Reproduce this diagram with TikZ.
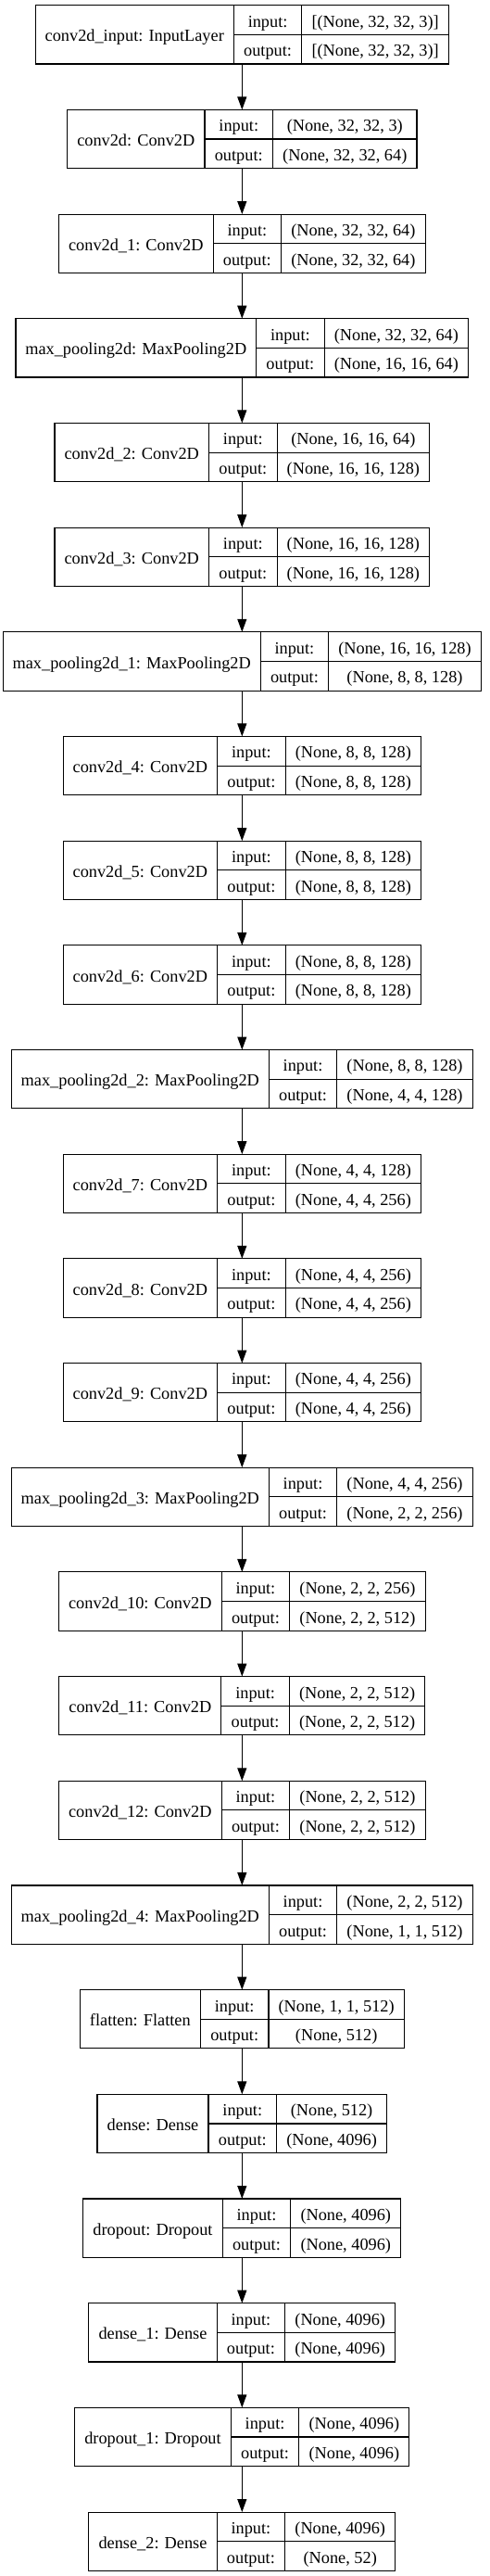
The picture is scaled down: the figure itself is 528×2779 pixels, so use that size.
\documentclass[tikz,border=0pt]{standalone}
\usepackage{fontspec}
\setmainfont{Liberation Serif}
\usetikzlibrary{arrows.meta}
\newdimen\lwN \newdimen\lwV \newdimen\lwVb
\newcommand\kfont{\fontsize{18.3}{22}\selectfont}
\newcommand\mfont{\fontsize{18.2}{22}\selectfont}
\makeatletter
\newcommand\kmeasure[5]{%
  \setbox0=\hbox{\mfont #3}\lwN=\wd0
  \setbox0=\hbox{\mfont #4}\lwV=\wd0
  \setbox0=\hbox{\mfont #5}\lwVb=\wd0
  \ifdim\lwVb>\lwV \lwV=\lwVb\fi
  \expandafter\xdef\csname kN#1\endcsname{\strip@pt\lwN}%
  \expandafter\xdef\csname kV#1\endcsname{\strip@pt\lwV}%
}
\newcommand\kiomeasure{%
  \setbox0=\hbox{\mfont output:}\lwN=\wd0
  \xdef\kIOw{\strip@pt\lwN}%
}
\makeatother
\newcommand\alllayers{%
\klay{L0}{0}{conv2d\_input: InputLayer}{[(None, 32, 32, 3)]}{[(None, 32, 32, 3)]}%
\klay{L1}{1}{conv2d: Conv2D}{(None, 32, 32, 3)}{(None, 32, 32, 64)}%
\klay{L2}{2}{conv2d\_1: Conv2D}{(None, 32, 32, 64)}{(None, 32, 32, 64)}%
\klay{L3}{3}{max\_pooling2d: MaxPooling2D}{(None, 32, 32, 64)}{(None, 16, 16, 64)}%
\klay{L4}{4}{conv2d\_2: Conv2D}{(None, 16, 16, 64)}{(None, 16, 16, 128)}%
\klay{L5}{5}{conv2d\_3: Conv2D}{(None, 16, 16, 128)}{(None, 16, 16, 128)}%
\klay{L6}{6}{max\_pooling2d\_1: MaxPooling2D}{(None, 16, 16, 128)}{(None, 8, 8, 128)}%
\klay{L7}{7}{conv2d\_4: Conv2D}{(None, 8, 8, 128)}{(None, 8, 8, 128)}%
\klay{L8}{8}{conv2d\_5: Conv2D}{(None, 8, 8, 128)}{(None, 8, 8, 128)}%
\klay{L9}{9}{conv2d\_6: Conv2D}{(None, 8, 8, 128)}{(None, 8, 8, 128)}%
\klay{L10}{10}{max\_pooling2d\_2: MaxPooling2D}{(None, 8, 8, 128)}{(None, 4, 4, 128)}%
\klay{L11}{11}{conv2d\_7: Conv2D}{(None, 4, 4, 128)}{(None, 4, 4, 256)}%
\klay{L12}{12}{conv2d\_8: Conv2D}{(None, 4, 4, 256)}{(None, 4, 4, 256)}%
\klay{L13}{13}{conv2d\_9: Conv2D}{(None, 4, 4, 256)}{(None, 4, 4, 256)}%
\klay{L14}{14}{max\_pooling2d\_3: MaxPooling2D}{(None, 4, 4, 256)}{(None, 2, 2, 256)}%
\klay{L15}{15}{conv2d\_10: Conv2D}{(None, 2, 2, 256)}{(None, 2, 2, 512)}%
\klay{L16}{16}{conv2d\_11: Conv2D}{(None, 2, 2, 512)}{(None, 2, 2, 512)}%
\klay{L17}{17}{conv2d\_12: Conv2D}{(None, 2, 2, 512)}{(None, 2, 2, 512)}%
\klay{L18}{18}{max\_pooling2d\_4: MaxPooling2D}{(None, 2, 2, 512)}{(None, 1, 1, 512)}%
\klay{L19}{19}{flatten: Flatten}{(None, 1, 1, 512)}{(None, 512)}%
\klay{L20}{20}{dense: Dense}{(None, 512)}{(None, 4096)}%
\klay{L21}{21}{dropout: Dropout}{(None, 4096)}{(None, 4096)}%
\klay{L22}{22}{dense\_1: Dense}{(None, 4096)}{(None, 4096)}%
\klay{L23}{23}{dropout\_1: Dropout}{(None, 4096)}{(None, 4096)}%
\klay{L24}{24}{dense\_2: Dense}{(None, 4096)}{(None, 52)}%
}
\AtBeginDocument{\kiomeasure\let\klay\kmeasure\alllayers}
\tikzset{
  layer/.style={draw, line width=1.1pt, rectangle, inner sep=0pt, outer sep=0pt, minimum height=63.3pt, anchor=north},
  cell/.style={line width=1.1pt},
  lbl/.style={font=\kfont, inner sep=0pt, anchor=base},
  arr/.style={-{Triangle[length=14pt,width=10pt]}, line width=1.1pt},
}
\newcommand\kdraw[5]{%
  \pgfmathsetmacro\cN{\csname kN#1\endcsname+22}%
  \pgfmathsetmacro\cIO{\kIOw+22}%
  \pgfmathsetmacro\cV{\csname kV#1\endcsname+22}%
  \pgfmathsetmacro\cW{\cN+\cIO+\cV}%
  \pgfmathsetmacro\cT{5.7+#2*112.68}%
  \pgfmathsetmacro\cL{261.3-\cW/2}%
  \pgfmathsetmacro\cA{\cL+\cN}%
  \pgfmathsetmacro\cB{\cA+\cIO}%
  \pgfmathsetmacro\cR{\cL+\cW}%
  \pgfmathsetmacro\cM{\cT+31.65}%
  \pgfmathsetmacro\cE{\cT+63.3}%
  \node[layer, minimum width=\cW pt] (#1) at (261.3,\cT) {};
  \draw[cell] (\cA,\cT) -- (\cA,\cE);
  \draw[cell] (\cB,\cT) -- (\cB,\cE);
  \draw[cell] (\cA,\cM) -- (\cR,\cM);
  \node[lbl] (#1-n) at ({\cL+\cN/2},{\cM+7.6}) {#3};
  \node[lbl] (#1-i) at ({\cA+\cIO/2},{\cT+15.83+7.6}) {input:};
  \node[lbl] (#1-o) at ({\cA+\cIO/2},{\cM+15.83+7.6}) {output:};
  \node[lbl] (#1-vi) at ({\cB+\cV/2},{\cT+15.83+7.6}) {#4};
  \node[lbl] (#1-vo) at ({\cB+\cV/2},{\cM+15.83+7.6}) {#5};
}
\begin{document}
\begin{tikzpicture}[x=1pt,y=-1pt]
\useasboundingbox (0,0) rectangle (528,2779);
\let\klay\kdraw
\alllayers
\foreach \a/\b in {L0/L1,L1/L2,L2/L3,L3/L4,L4/L5,L5/L6,L6/L7,L7/L8,L8/L9,L9/L10,L10/L11,L11/L12,L12/L13,L13/L14,L14/L15,L15/L16,L16/L17,L17/L18,L18/L19,L19/L20,L20/L21,L21/L22,L22/L23,L23/L24}
  \draw[arr] (\a.south) -- (\b.north);
\end{tikzpicture}
\end{document}
